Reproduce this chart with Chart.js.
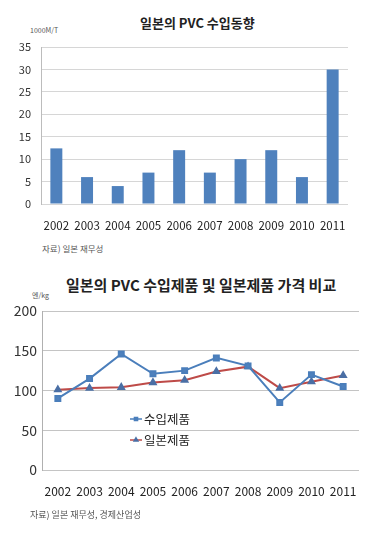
<!DOCTYPE html>
<html>
<head>
<meta charset="utf-8">
<script src="https://cdn.jsdelivr.net/npm/chart.js@4.4.0/dist/chart.umd.min.js"></script>
<style>
	body { margin: 0; background: #fff; width: 376px; height: 543px; position: relative; overflow: hidden; font-family: "Noto Sans CJK KR", sans-serif; color: #222; }
	.t { position: absolute; white-space: nowrap; line-height: 1; }
	.wrap { position: absolute; left: 0; width: 376px; height: 240px; }
</style>
</head>
<body>
<div class="t" style="left:140px;top:16px;font-size:13px;font-weight:bold;">일본의 PVC 수입동향</div>
<div class="t" style="left:30px;top:27px;font-size:7px;color:#555;">1000M/T</div>
<div class="wrap" style="top:0;"><canvas id="importChart" width="376" height="240"></canvas></div>
<div class="t" style="left:42px;top:244px;font-size:8.5px;color:#555;">자료) 일본 재무성</div>

<div class="t" style="left:66px;top:277px;font-size:15px;font-weight:bold;">일본의 PVC 수입제품 및 일본제품 가격 비교</div>
<div class="t" style="left:32px;top:292px;font-size:7px;color:#555;">엔/kg</div>
<div class="wrap" style="top:270px;"><canvas id="priceChart" width="376" height="240"></canvas></div>
<div class="t" style="left:30px;top:510px;font-size:9px;color:#555;">자료) 일본 재무성, 경제산업성</div>

<script>
// data
const years = ['2002', '2003', '2004', '2005', '2006', '2007', '2008', '2009', '2010', '2011'];
const importVolume = [12.4, 6, 4, 7, 12, 7, 10, 12, 6, 30];
const volumeTicks = [0, 5, 10, 15, 20, 25, 30, 35];

const priceLabels = ['수입제품', '일본제품'];
const importedPrice = [90, 115, 146, 121, 125, 141, 131, 85, 120, 105];
const domesticPrice = [101, 103, 104, 110, 113, 124, 130, 103, 111, 119];
const priceTicks = [0, 50, 100, 150, 200];

// legend drawn inside the plot, like the original
const insideLegend = {
	id: 'insideLegend',
	afterDraw(chart) {
		const ctx = chart.ctx;
		ctx.save();
		chart.data.datasets.forEach((ds, i) => {
			const y = 149 + i * 21;
			ctx.strokeStyle = ds.borderColor;
			ctx.lineWidth = 1.5;
			ctx.beginPath();
			ctx.moveTo(130, y);
			ctx.lineTo(142, y);
			ctx.stroke();
			ctx.fillStyle = ds.pointBackgroundColor;
			ctx.strokeStyle = ds.pointBorderColor;
			Chart.helpers.drawPoint(ctx, { pointStyle: ds.pointStyle, radius: 2.2, rotation: 0, borderWidth: 1 }, 136, y);
			ctx.fillStyle = '#222';
			ctx.font = '12.5px "Noto Sans CJK KR"';
			ctx.textBaseline = 'middle';
			ctx.fillText(ds.label, 144, y);
		});
		ctx.restore();
	}
};

new Chart(document.getElementById('importChart').getContext('2d'), {
	type: 'bar',
	data: {
		labels: years,
		datasets: [{
			label: '수입동향',
			data: importVolume,
			backgroundColor: '#4F81BD',
			barPercentage: 0.39,
			categoryPercentage: 1,
		}],
	},
	options: {
		responsive: false,
		animation: false,
		layout: { padding: { top: 47, right: 28, left: 0, bottom: 0 } },
		plugins: { legend: { display: false }, tooltip: { enabled: false } },
		scales: {
			x: {
				grid: { display: false },
				border: { display: false },
				ticks: { color: '#222', font: { family: 'Noto Sans CJK KR', size: 11.5 }, padding: 7, maxRotation: 0, autoSkip: false },
				afterFit(scale) { scale.height = 36; },
			},
			y: {
				min: 0,
				max: 35,
				afterBuildTicks(scale) { scale.ticks = volumeTicks.map(v => ({ value: v })); },
				grid: { color: '#d6d6d6', drawTicks: false },
				border: { color: '#bcbcbc' },
				ticks: { color: '#333', font: { family: 'Noto Sans CJK KR', size: 11 }, padding: 10 },
				afterFit(scale) { scale.width = 41; },
			},
		},
	},
});

new Chart(document.getElementById('priceChart').getContext('2d'), {
	type: 'line',
	data: {
		labels: years,
		datasets: [
			{
				label: priceLabels[0],
				data: importedPrice,
				borderColor: '#4A7EBB',
				borderWidth: 2,
				pointStyle: 'rect',
				pointRadius: 3.5,
				pointBackgroundColor: '#4F81BD',
				pointBorderColor: '#4A7EBB',
				tension: 0,
			},
			{
				label: priceLabels[1],
				data: domesticPrice,
				borderColor: '#BE4B48',
				borderWidth: 2,
				pointStyle: 'triangle',
				pointRadius: 3.2,
				pointBackgroundColor: '#4A6FA5',
				pointBorderColor: '#4A6FA5',
				tension: 0,
			},
		],
	},
	options: {
		responsive: false,
		animation: false,
		layout: { padding: { top: 41, right: 17, left: 0, bottom: 0 } },
		plugins: { legend: { display: false }, tooltip: { enabled: false } },
		scales: {
			x: {
				offset: true,
				grid: { display: false },
				border: { display: false },
				ticks: { color: '#222', font: { family: 'Noto Sans CJK KR', size: 12 }, padding: 6, maxRotation: 0, autoSkip: false },
				afterFit(scale) { scale.height = 40; },
			},
			y: {
				min: 0,
				max: 200,
				afterBuildTicks(scale) { scale.ticks = priceTicks.map(v => ({ value: v })); },
				grid: { color: '#c4c4c4', drawTicks: false },
				border: { color: '#b0b0b0' },
				ticks: { color: '#333', font: { family: 'Noto Sans CJK KR', size: 14 }, padding: 5 },
				afterFit(scale) { scale.width = 42; },
			},
		},
	},
	plugins: [insideLegend],
});
</script>
</body>
</html>
